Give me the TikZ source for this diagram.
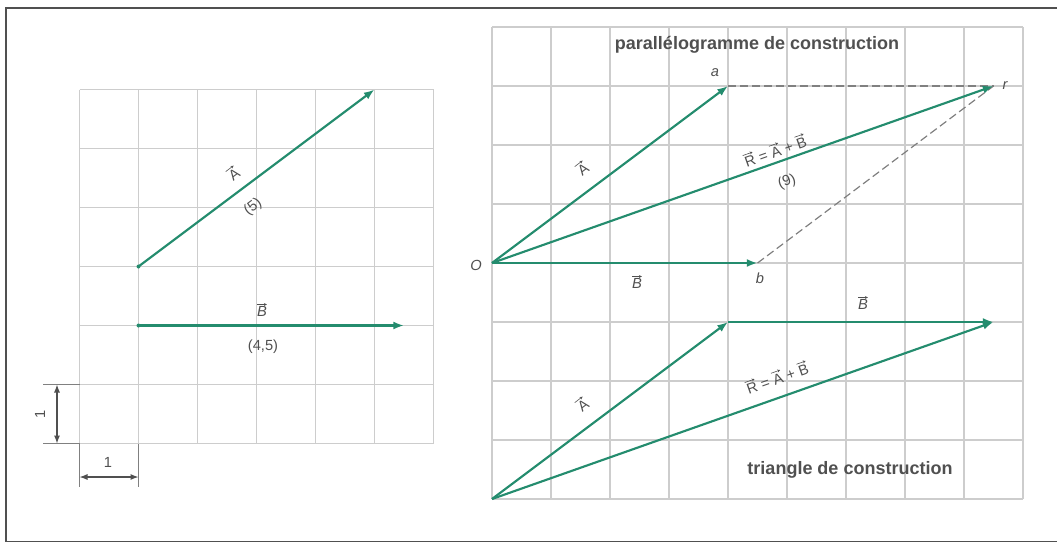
\documentclass[tikz,border=0pt]{standalone}
\usepackage{fontspec}
\setmainfont{Liberation Sans}
\usetikzlibrary{arrows.meta}
\definecolor{vecgreen}{RGB}{36,140,110}
\definecolor{gridgray}{RGB}{205,205,205}
\definecolor{txt}{RGB}{80,80,80}
\newcommand{\vv}[1]{\tikz[baseline=(v.base)]{\node[inner sep=0pt,outer sep=0pt,text=txt] (v) {#1};\draw[draw=txt,line width=0.45pt,-{Stealth[length=2.2pt,width=2.2pt]}] ([yshift=1.8pt]v.north west) -- ([yshift=1.8pt]v.north east);}}
\begin{document}
\begin{tikzpicture}[x=0.75pt,y=-0.75pt,
  gridline/.style={gridgray, line width=0.9pt},
  vecline/.style={vecgreen, line width=1.6pt, -{Latex[length=8pt,width=6pt]}},
  dashline/.style={gray, line width=0.9pt, dash pattern=on 6pt off 3pt},
  lbl/.style={text=txt, font=\fontsize{11}{13}\selectfont, inner sep=1pt},
  ttl/.style={text=txt, font=\fontsize{13.5}{16}\selectfont\bfseries, inner sep=0pt},
  ptl/.style={text=txt, font=\fontsize{11}{13}\selectfont\itshape, inner sep=1pt},
  dimline/.style={gray, line width=0.8pt},
  dimarr/.style={txt, line width=0.8pt, {Latex[length=6pt,width=4.5pt]}-{Latex[length=6pt,width=4.5pt]}}
]
\useasboundingbox (0,0) rectangle (1057,543);
% frame
\draw[txt, line width=1.1pt] (1057,8) -- (6,8) -- (6,541.5) -- (1057,541.5);

% ---------- left grid ----------
\foreach \i in {0,...,6} {
  \draw[gridline] ({79.5+59*\i},89.5) -- ({79.5+59*\i},443.5);
  \draw[gridline] (79.5,{89.5+59*\i}) -- (433.5,{89.5+59*\i});
}
% dimension marks
\draw[dimline] (43,384.5) -- (79.5,384.5);
\draw[dimline] (43,443.5) -- (79.5,443.5);
\draw[dimline] (79.5,443.5) -- (79.5,487);
\draw[dimline] (138.5,443.5) -- (138.5,487);
\coordinate (DV0) at (57,384.5);
\coordinate (DV1) at (57,443.5);
\coordinate (DH0) at (79.5,477);
\coordinate (DH1) at (138.5,477);
\draw[dimarr] (DV0) -- (DV1);
\draw[dimarr] (DH0) -- (DH1);
\node[lbl, rotate=90] (dimv) at (40,414) {1};
\node[lbl] (dimh) at (108,462) {1};

% vectors
\coordinate (LA0) at (138.5,266.5);
\coordinate (LA1) at (374.5,89.5);
\coordinate (LB0) at (138.5,325.5);
\coordinate (LB1) at (404,325.5);
\draw[vecline] (LA0) -- (LA1);
\draw[vecline] (LB0) -- (LB1);
\fill[vecgreen] (LA0) circle (2);
\fill[vecgreen] (LB0) circle (2);
\node[lbl, rotate=37] (lAl) at (233,173) {\vv{A}};
\node[lbl, rotate=37] (lAn) at (253,207) {(5)};
\node[lbl] (lBl) at (262,310) {\vv{\itshape B}};
\node[lbl] (lBn) at (263,347) {(4,5)};

% ---------- right grid ----------
\foreach \i in {0,...,9} {
  \draw[gridline] ({492+59*\i},27) -- ({492+59*\i},499);
}
\foreach \j in {0,...,8} {
  \draw[gridline] (492,{27+59*\j}) -- (1023,{27+59*\j});
}
\node[ttl] (t1) at (757,45) {parallélogramme de construction};
\node[ttl] (t2) at (850,470) {triangle de construction};

% parallelogram
\coordinate (O) at (492,263);
\coordinate (a) at (728,86);
\coordinate (b) at (757.5,263);
\coordinate (r) at (993.5,86);
\draw[dashline] (a) -- (r);
\draw[dashline] (b) -- (r);
\draw[vecline] (O) -- (a);
\draw[vecline] (O) -- (b);
\draw[vecline] (O) -- (r);
\node[ptl] (nO) at (476,265) {O};
\node[ptl] (na) at (715,73) {a};
\node[ptl] (nb) at (760,278) {b};
\node[ptl] (nr) at (1005,86) {r};
\node[lbl, rotate=37] (pA) at (582,168) {\vv{A}};
\node[lbl] (pB) at (637,282) {\vv{\itshape B}};
\node[lbl, rotate=19.5] (pR) at (775,150) {\vv{R} = \vv{A} + \vv{B}};
\node[lbl, rotate=19.5] (pn) at (787,182) {(9)};

% triangle
\coordinate (T0) at (492,499);
\coordinate (T1) at (728,322);
\coordinate (T2) at (993.5,322);
\draw[vecline] (T0) -- (T1);
\draw[vecline] (T1) -- (T2);
\draw[vecline] (T0) -- (T2);
\node[lbl, rotate=37] (tA) at (582,404) {\vv{A}};
\node[lbl] (tB) at (863,303) {\vv{\itshape B}};
\node[lbl, rotate=19.5] (tR) at (777,377) {\vv{R} = \vv{A} + \vv{B}};
\end{tikzpicture}
\end{document}
